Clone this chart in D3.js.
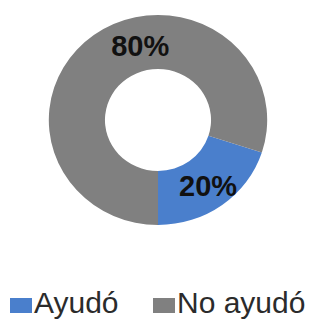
<!DOCTYPE html>
<html>
<head>
<meta charset="utf-8">
<script src="https://cdn.jsdelivr.net/npm/d3@7"></script>
<style>
  html, body { margin: 0; padding: 0; background: #fff; }
  svg { display: block; }
</style>
</head>
<body>
<script>
// Données du graphique
const categories = ["Ayudó", "No ayudó"];
const values = [20, 80];
const colors = ["#4a7fcc", "#808080"];

const width = 313;
const height = 321;

const svg = d3.select("body").append("svg")
    .attr("width", width)
    .attr("height", height);

// Anneau (légèrement étiré en largeur comme l'original)
const cx = 158, cy = 120;
const outerR = 105, innerR = 51;
const stretchX = 1.04;

const pie = d3.pie()
    .sort(null)
    .value(d => d.value)
    .startAngle(0.6 * Math.PI)
    .endAngle(2.6 * Math.PI);

const data = categories.map((c, i) => ({ name: c, value: values[i], color: colors[i] }));
const arcs = pie(data);

const arc = d3.arc().innerRadius(innerR).outerRadius(outerR);

const ring = svg.append("g")
    .attr("transform", `translate(${cx},${cy}) scale(${stretchX},1)`);

ring.selectAll("path")
    .data(arcs)
    .enter().append("path")
    .attr("d", arc)
    .attr("fill", d => d.data.color);

// Étiquettes en pourcentage
const total = d3.sum(values);
const fmt = d3.format(".0%");
// Excel décale l'étiquette du grand secteur vers le haut
const labelAngle = d => d.data.name === "No ayudó" ? (347 / 180) * Math.PI : (d.startAngle + d.endAngle) / 2;
const labelR = d => d.data.name === "No ayudó" ? 76 : 82;

svg.append("g")
    .selectAll("text")
    .data(arcs)
    .enter().append("text")
    .attr("x", d => cx + Math.sin(labelAngle(d)) * labelR(d) * stretchX)
    .attr("y", d => cy - Math.cos(labelAngle(d)) * labelR(d))
    .attr("text-anchor", "middle")
    .attr("dominant-baseline", "central")
    .attr("font-family", "Liberation Sans, Arial, sans-serif")
    .attr("font-size", 29)
    .attr("font-weight", "bold")
    .attr("fill", "#111")
    .text(d => fmt(d.data.value / total));

// Légende
const legendX = [10, 153];
const legend = svg.append("g")
    .selectAll("g")
    .data(data)
    .enter().append("g")
    .attr("transform", (d, i) => `translate(${legendX[i]},313)`);

legend.append("rect")
    .attr("x", 0)
    .attr("y", -15)
    .attr("width", 22)
    .attr("height", 15)
    .attr("fill", d => d.color);

legend.append("text")
    .attr("x", 24)
    .attr("y", 0)
    .attr("font-family", "Liberation Sans, Arial, sans-serif")
    .attr("font-size", 30)
    .attr("fill", "#2b2b2b")
    .text(d => d.name);
</script>
</body>
</html>
